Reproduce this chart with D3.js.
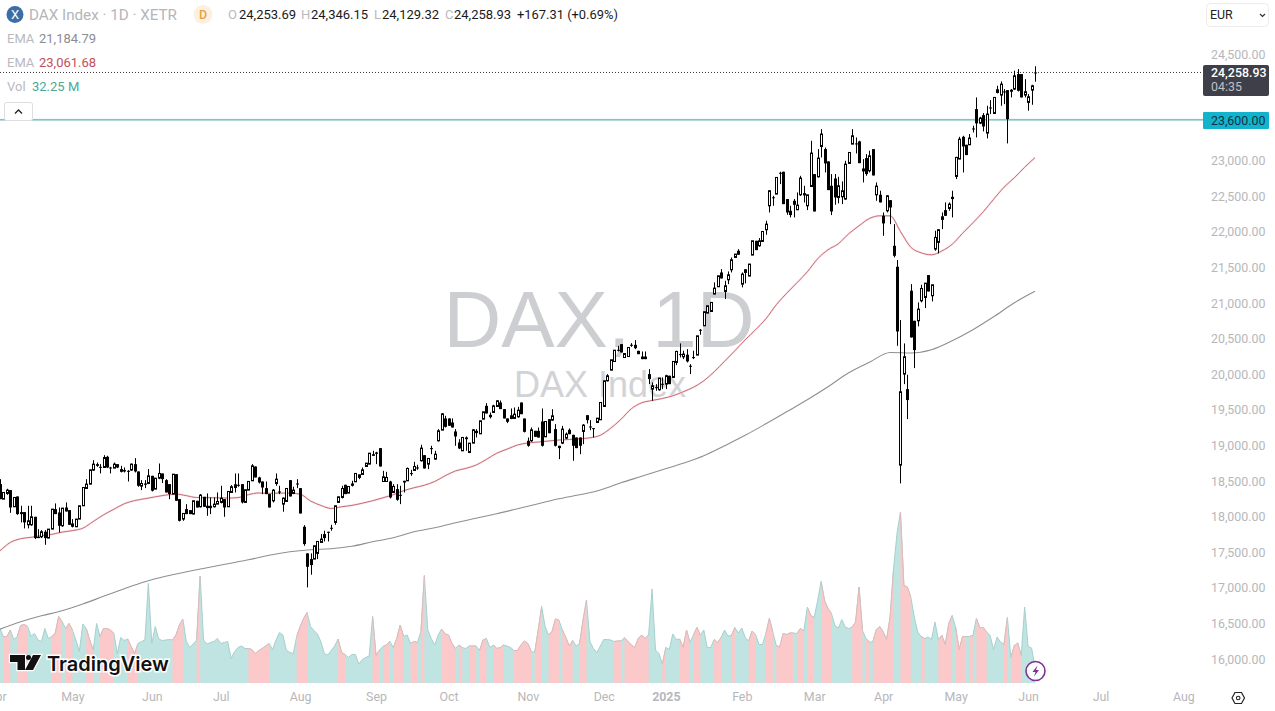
<!DOCTYPE html>
<html><head><meta charset="utf-8">
<script src="https://cdn.jsdelivr.net/npm/d3@7/dist/d3.min.js"></script>
<style>
html,body{margin:0;padding:0;background:#fff;overflow:hidden}
svg{display:block}
text{font-family:Roboto,"Noto Sans",sans-serif}
</style></head><body><svg id="c" width="1275" height="711"></svg>
<script>
const opens=[18475,18264,18344,18391,18157,18302,18082,18082,17904,17904,
18016,17735,17735,17806,17717,17843,18124,18077,17890,18147,
18110,17923,17876,17984,18171,18414,18475,18672,18756,18718,
18709,18859,18709,18700,18756,18686,18672,18658,18672,18756,
18653,18447,18484,18484,18592,18405,18559,18625,18531,18475,
18335,18615,
18264,17984,18124,18110,18054,18241,18157,18297,18171,18171,
18157,18194,18218,18264,18157,18358,18428,18461,18475,18218,
18391,18522,18723,18569,18512,18419,18335,18241,18484,18372,
18194,18232,18531,18344,18484,18419,
17876,17502,17422,17422,17502,17656,17773,17806,17857,17937,18218,
18288,18466,18349,18484,18508,18569,18611,18723,18756,18873,
18920,18981,18512,18512,18512,18358,18405,18320,18498,18522,
18625,18667,18709,18803,18882,18756,18981,18826,19084,19234,
19398,19398,19341,19215,19060,18943,19131,18920,19051,19224,
19182,19388,19575,19449,19482,19566,19622,19529,19398,19398,
19398,19421,
19622,19397,19084,19084,19224,19224,19355,19140,19388,19374,
19248,19014,19051,19121,19238,19168,19130,19130,19215,19444,
19280,19257,19341,19379,19566,19927,20076,20198,20357,20442,
20254,20268,20428,20432,20348,20268,20268,
20021,19810,19837,19801,19880,19880,19998,19974,20185,20297,
20264,20293,20138,20255,20288,20644,20700,20878,20901,21145,
21248,21449,21182,21346,21487,21660,21754,21285,21449,21398,
21693,21894,21824,21885,22049,22386,22500,22550,22845,22864,
22480,22316,22456,22330,22540,22564,22386,22657,22831,22793,
23219,23182,23009,22667,22769,22503,22512,22480,22981,23252,
23262,23290,22910,23056,22878,23182,
22540,22540,22245,22316,22465,21824,21529,18742,20021,19810,
21192,20770,20770,21051,21098,21412,21122,21777,21871,22194,
22325,22348,22512,22798,23042,23355,23243,23243,23468,23744,
23547,23660,23407,23762,23683,23978,23941,23987,24011,23988,
24025,24236,24236,23941,23838,24011,24253.69];
const highs=[18545,18358,18410,18391,18288,18302,18171,18082,18171,18171,
18016,17843,17829,17829,17843,18124,18204,18147,18138,18218,
18110,17984,17984,18171,18428,18545,18676,18812,18779,18756,
18882,18873,18718,18779,18756,18732,18709,18672,18765,18840,
18653,18531,18531,18686,18592,18560,18765,18625,18545,18475,
18615,18615,
18264,18063,18194,18110,18241,18241,18335,18297,18344,18288,
18288,18358,18452,18264,18372,18461,18625,18625,18475,18396,
18513,18756,18723,18578,18512,18512,18335,18405,18625,18452,
18288,18414,18531,18438,18545,18419,
17899,17502,17502,17609,17670,17773,17820,17806,17904,18171,18297,
18452,18466,18442,18522,18625,18606,18709,18770,18910,18943,
18929,18981,18662,18648,18522,18475,18475,18452,18522,18709,
18676,18789,18747,19028,18882,18836,19014,18943,19248,19472,
19435,19398,19398,19248,19107,19131,19145,19051,19248,19248,
19365,19491,19613,19482,19590,19655,19650,19529,19398,19538,
19552,19561,
19622,19397,19130,19271,19224,19270,19538,19355,19388,19528,
19318,19014,19294,19201,19257,19168,19130,19130,19318,19444,
19374,19257,19402,19622,19927,20020,20222,20357,20418,20442,
20310,20395,20456,20498,20348,20339,20339,
20091,19904,19880,19965,19974,20012,19998,20199,20349,20452,
20349,20372,20161,20349,20559,20653,20897,20981,21028,21309,
21402,21496,21332,21463,21660,21707,21777,21449,21496,21567,
21894,21894,21932,22025,22175,22606,22526,22784,22864,22864,
22480,22386,22480,22573,22807,22667,22540,23299,22831,23182,
23463,23205,23009,22831,22831,22793,22728,23018,23135,23463,
23346,23299,23041,23112,23159,23182,
22714,22597,22292,22536,22465,22128,21623,20780,20452,20012,
21285,20770,21028,21276,21299,21412,21276,22035,22058,22292,
22433,22433,22597,23074,23355,23369,23243,23393,23510,23908,
23636,23688,23791,23870,23908,24072,24133,24025,24011,24025,
24283,24306,24236,24165,23955,24086,24346.15];
const lows=[18264,18264,18325,18072,18157,18044,17937,17853,17853,17890,
17703,17717,17717,17623,17717,17843,18054,17796,17876,18091,
17904,17867,17876,17984,18171,18414,18475,18662,18718,18625,
18709,18700,18625,18700,18700,18639,18639,18512,18662,18639,
18438,18391,18419,18475,18372,18405,18545,18490,18358,18264,
18335,18241,
17951,17960,18054,18054,18054,18147,18147,18157,18030,18054,
18147,18194,18204,18016,18157,18358,18358,18438,18204,18218,
18391,18522,18569,18484,18335,18335,18147,18218,18452,18335,
18087,18232,18302,18335,18419,18063,
17609,17024,17202,17422,17422,17656,17670,17670,17820,17904,18218,
18274,18335,18349,18442,18508,18545,18611,18723,18756,18873,
18756,18723,18512,18512,18274,18349,18241,18194,18358,18522,
18592,18667,18676,18793,18695,18686,18896,18817,19074,19234,
19271,19295,19271,19014,18967,18943,18943,18911,19051,19131,
19182,19388,19468,19398,19482,19566,19529,19398,19332,19388,
19398,19408,
19458,19201,19000,19070,19140,19130,19004,19140,19190,19365,
19004,18826,19037,19107,19177,18803,18981,18896,19037,19327,
19233,19130,19341,19379,19566,19917,20076,20198,20339,20325,
20254,20268,20404,20371,20301,20231,20231,
19880,19646,19787,19787,19810,19810,19880,19974,20147,20255,
20232,20185,20021,20232,20288,20573,20700,20878,20901,21145,
21248,21365,21075,21285,21449,21660,21698,21239,21295,21398,
21693,21763,21810,21885,21978,22292,22386,22550,22690,22409,
22259,22222,22222,22325,22526,22433,22325,22657,22306,22784,
23065,22854,22606,22255,22400,22419,22409,22470,22981,23252,
23121,22985,22714,22807,22854,22812,
22456,22433,21964,22292,22128,21660,20419,18485,19880,19389,
20536,20105,20691,21028,20948,21182,21042,21754,21716,22058,
22245,22316,22222,22761,23042,22854,23098,23243,23416,23346,
23533,23430,23332,23674,23683,23964,23791,23814,23262,23908,
24011,23992,23908,23908,23721,23805,24129.32];
const closes=[18264,18358,18391,18147,18288,18054,18054,17937,17960,18016,
17717,17717,17806,17717,17843,18124,18054,17890,18138,18091,
17904,17876,17984,18171,18428,18475,18676,18756,18732,18709,
18849,18709,18700,18756,18709,18648,18653,18662,18756,18653,
18452,18484,18466,18592,18382,18559,18625,18545,18358,18335,
18615,18241,
17960,18063,18054,18054,18241,18147,18321,18157,18138,18138,
18194,18232,18278,18147,18372,18438,18466,18466,18218,18396,
18513,18732,18569,18498,18428,18335,18147,18391,18545,18367,
18278,18414,18302,18391,18480,18063,
17633,17314,17338,17609,17670,17703,17717,17800,17862,18171,18297,
18414,18335,18442,18452,18625,18606,18676,18770,18910,18896,
18901,18723,18578,18569,18288,18442,18255,18325,18522,18695,
18630,18723,18700,18981,18695,18836,18976,18896,19224,19463,
19280,19295,19271,19145,18976,19131,19107,19051,19238,19192,
19365,19491,19468,19416,19575,19646,19529,19398,19351,19435,
19458,19514,
19458,19210,19014,19238,19140,19130,19014,19355,19191,19435,
19014,18981,19248,19177,19177,19014,18981,19014,19304,19374,
19285,19262,19402,19622,19927,19997,20222,20357,20362,20325,
20310,20395,20433,20385,20301,20231,20231,
19951,19857,19834,19965,19885,19998,19880,20199,20339,20302,
20302,20199,20133,20260,20559,20644,20897,20981,21028,21229,
21402,21365,21262,21416,21627,21707,21698,21426,21487,21567,
21894,21763,21894,22025,22128,22597,22505,22784,22850,22409,
22292,22255,22400,22395,22775,22531,22540,23126,22306,23056,
23393,22981,22606,22306,22503,22667,22597,22971,23135,23369,
23257,22985,22868,22831,23088,22812,
22662,22433,22138,22526,22362,21683,20620,19773,20265,19656,
20536,20358,20934,21224,21299,21182,21276,21941,22049,22231,
22245,22409,22480,23065,23322,23219,23098,23337,23472,23543,
23618,23500,23674,23767,23908,24016,24095,23992,23603,24016,
24212,24002,23908,23988,23917,24072,24258.93];
const volumes=[109,93,93,106,87,93,115,117,113,94,99,86,83,109,89,93,99,133,123,109,119,106,86,63,118,109,86,66,119,93,109,109,106,99,59,91,85,88,73,59,79,83,86,199,79,113,88,85,86,87,86,96,116,128,83,71,78,86,214,86,78,81,83,89,79,81,83,49,63,71,74,69,69,67,59,65,69,74,79,67,86,101,96,66,61,59,93,113,129,141,113,105,98,83,59,56,65,
74,88,61,57,51,57,57,38,47,51,54,133,55,66,73,76,83,71,89,116,93,96,79,83,81,103,215,106,89,76,96,108,98,96,79,69,76,71,69,74,74,74,65,86,89,71,76,69,71,76,74,71,65,65,76,84,79,63,61,106,153,113,96,103,128,126,106,91,74,85,74,79,126,166,83,69,61,74,87,87,86,83,84,84,91,83,76,71,89,96,89,96,188,66,59,38,71,67,98,87,88,71,106,81,96,111,96,106,71,71,87,81,91,106,94,
95,111,100,110,91,84,104,97,77,77,99,129,102,75,72,99,97,100,100,99,109,104,152,135,131,165,203,165,149,139,115,110,127,112,109,112,122,192,105,89,82,82,107,113,102,87,132,229,299,342,195,192,172,132,102,93,89,92,87,122,87,95,77,119,135,111,67,93,93,93,95,129,111,111,102,95,67,92,82,77,131,51,75,80,55,152,73,70,32.25];
// first and last bar of each run of falling-volume (pink) bars
const pinkRunStart=[2,6,16,20,26,30,38,51,58,73,87,99,109,112,115,120,123,129,134,137,140,144,150,154,156,160,164,169,179,182,193,198,202,208,213,218,223,226,232,235,239,248,252,254,257,262,268,273,275,278,282,284,292,294];
const pinkRunEnd=[3,8,18,21,27,33,40,53,58,78,89,100,110,113,117,121,123,132,134,138,141,146,153,154,157,162,166,170,180,188,193,200,203,209,213,219,224,230,233,236,241,250,252,256,259,264,268,274,276,280,282,286,292,296];
const ema50=[17538,17656,17708,17728,17751,17769,17801,17822,17856,17949,18043,18122,18199,18244,18270,18297,18321,18335,18313,18287,18286,18282,18279,18286,18327,18351,18345,18349,18349,18334,18238,18176,18133,18157,18176,18207,18242,18283,18327,18383,18424,18460,18512,18592,18660,18696,18743,18823,18910,18967,19025,19053,19067,19081,19095,19102,19112,19126,19161,19260,19386,19534,19618,19650,19678,19716,19772,19836,19927,20053,20201,20348,20503,20644,20798,20995,21156,21304,21458,21641,21768,21852,21992,22105,22207,22245,22245,22025,21803,21725,21697,21751,21845,21999,22147,22301,22477,22646,22779,22927,23061.68];
const ema200=[16438,16541,16625,16695,16790,16899,17005,17103,17180,17243,17300,17356,17412,17475,17524,17553,17567,17602,17665,17721,17805,17862,17932,17995,18058,18129,18199,18269,18325,18393,18494,18585,18677,18768,18873,19014,19161,19323,19491,19660,19843,20039,20187,20325,20318,20363,20489,20644,20826,21023,21184.79];
const ema50Bars=d3.range(0,301,3);
const ema200Bars=d3.range(0,301,6);
const priceTicks=[16000,16500,17000,17500,18000,18500,19000,19500,20000,20500,21000,21500,22000,22500,23000,24500];
const monthTicks=[-1,21,44,64,87,109,130,153,175,193,215,236,256,277,298,319,343];
const monthLabels=["Apr","May","Jun","Jul","Aug","Sep","Oct","Nov","Dec","2025","Feb","Mar","Apr","May","Jun","Jul","Aug"];
const levelPrice=23600, lastClose=24258.93;
const legendOHLC=[["O","24,253.69",228,239],["H","24,346.15",301,311],["L","24,129.32",374,382],["C","24,258.93",445,454]];

const svg=d3.select("#c"), plotR=1203, plotB=683;
const n=opens.length;
const x=d3.scaleLinear().domain([0,n-1]).range([1035-3.45*(n-1),1035]);
const y=d3.scaleLinear().domain([16000,24500]).range([660.3,55.3]);
const vy=d3.scaleLinear().domain([0,340]).range([plotB,plotB-170]);
svg.append("defs").append("clipPath").attr("id","pl").append("rect").attr("width",plotR).attr("height",plotB);

// watermark
svg.append("text").attr("x",599).attr("y",347).attr("text-anchor","middle")
  .style("font-family","'Liberation Sans',Arial,sans-serif").style("font-size","80px").attr("fill","#cdced2").text("DAX, 1D");
svg.append("text").attr("x",600).attr("y",397).attr("text-anchor","middle")
  .style("font-family","'Liberation Sans',Arial,sans-serif").style("font-size","36px").attr("fill","#d2d3d6").text("DAX Index");

const plot=svg.append("g").attr("clip-path","url(#pl)");
// volume area: teal everywhere, pink over the falling runs
const pts=volumes.map((v,i)=>({i,v}));
const areaGen=d3.area().x(d=>x(d.i)).y0(plotB).y1(d=>vy(d.v));
const topGen=d3.line().x(d=>x(d.i)).y(d=>vy(d.v));
plot.append("path").attr("d",areaGen(pts)).attr("fill","#bfe4e1");
plot.append("path").attr("d",topGen(pts)).attr("fill","none").attr("stroke","#a9cfcd").attr("stroke-width",1);
const runs=pinkRunStart.map((s,k)=>pts.slice(Math.max(0,s-1),pinkRunEnd[k]+1));
plot.append("g").selectAll("path").data(runs).join("path").attr("d",areaGen).attr("fill","#fbc9c9");
plot.append("g").selectAll("path").data(runs).join("path").attr("d",topGen).attr("fill","none").attr("stroke","#dcbcbc").attr("stroke-width",1);

// EMAs
const lineGen=d3.line().x(d=>x(d[0])).y(d=>y(d[1])).curve(d3.curveMonotoneX);
plot.append("path").attr("d",lineGen(ema200Bars.map((b,i)=>[b,ema200[i]]))).attr("fill","none").attr("stroke","#8f8f92").attr("stroke-width",1.1);
plot.append("path").attr("d",lineGen(ema50Bars.map((b,i)=>[b,ema50[i]]))).attr("fill","none").attr("stroke","#f8e6e8").attr("stroke-width",2.2);
plot.append("path").attr("d",lineGen(ema50Bars.map((b,i)=>[b,ema50[i]]))).attr("fill","none").attr("stroke","#c86b75").attr("stroke-width",1);

// level and last-price lines
plot.append("line").attr("x1",0).attr("x2",plotR).attr("y1",y(levelPrice)+.5).attr("y2",y(levelPrice)+.5).attr("stroke","#e2f5f6").attr("stroke-width",2.5);
plot.append("line").attr("x1",0).attr("x2",plotR).attr("y1",y(levelPrice)+.5).attr("y2",y(levelPrice)+.5).attr("stroke","#5aa4ab").attr("stroke-width",1);
plot.append("line").attr("x1",0).attr("x2",plotR).attr("y1",y(lastClose)).attr("y2",y(lastClose)).attr("stroke","#333").attr("stroke-width",1).attr("stroke-dasharray","1 2");

// candles
const idx=d3.range(n);
const cx=i=>Math.round(x(i))+.5;
plot.append("g").selectAll("line").data(idx).join("line")
  .attr("x1",cx).attr("x2",cx).attr("y1",i=>y(highs[i])).attr("y2",i=>y(lows[i])).attr("stroke","#000").attr("stroke-width",1);
plot.append("g").selectAll("rect").data(idx).join("rect")
  .each(function(i){
    const up=closes[i]>=opens[i], t=y(Math.max(opens[i],closes[i])), b=y(Math.min(opens[i],closes[i]));
    const h=Math.max(b-t,1);
    if(up&&h>2) d3.select(this).attr("x",cx(i)-1).attr("width",2).attr("y",t).attr("height",h).attr("fill","#fff").attr("stroke","#000").attr("stroke-width",1);
    else d3.select(this).attr("x",cx(i)-1.5).attr("width",3).attr("y",t).attr("height",h).attr("fill","#000");
  });

// axes
const ya=svg.append("g").attr("transform",`translate(${plotR},0)`).call(d3.axisRight(y).tickValues(priceTicks).tickSize(0).tickPadding(8).tickFormat(d3.format(",.2f")));
ya.select(".domain").remove();
ya.selectAll("text").attr("fill","#b7b7bb").style("font-size","12.4px").attr("dy","0.22em");
const xa=svg.append("g").attr("transform",`translate(0,${plotB})`).call(d3.axisBottom(x).tickValues(monthTicks).tickSize(0).tickPadding(9).tickFormat((d,i)=>monthLabels[i]));
xa.select(".domain").remove();
xa.selectAll("text").attr("fill","#b7b7bb").style("font-size","12.4px").style("font-weight",(d,i)=>monthLabels[i]==="2025"?"700":"400");

// tags
svg.append("rect").attr("x",plotR).attr("y",65).attr("width",66).attr("height",31).attr("rx",2).attr("fill","#3e3f49");
svg.append("text").attr("x",1211).attr("y",77).attr("fill","#fff").style("font-size","12.4px").style("font-weight","500").text(d3.format(",.2f")(lastClose));
svg.append("text").attr("x",1211).attr("y",91).attr("fill","#c0c0c6").style("font-size","12.4px").text("04:35");
svg.append("rect").attr("x",plotR).attr("y",112).attr("width",66).attr("height",17).attr("rx",1).attr("fill","#14b3cc");
svg.append("text").attr("x",1211).attr("y",124.5).attr("fill","#0e3347").style("font-size","12.4px").text(d3.format(",.2f")(levelPrice));

// currency box
svg.append("rect").attr("x",1206.5).attr("y",3.5).attr("width",62).attr("height",23).attr("rx",4).attr("fill","#fff").attr("stroke","#ececee");
svg.append("text").attr("x",1210).attr("y",19).attr("fill","#222").style("font-size","12.4px").text("EUR");
svg.append("path").attr("d","M1260 14l2.5 2.5 2.5-2.5").attr("fill","none").attr("stroke","#333").attr("stroke-width",1.2);

// legend
svg.append("circle").attr("cx",15).attr("cy",14.5).attr("r",8.5).attr("fill","#3b6ea8");
svg.append("text").attr("x",15).attr("y",19).attr("text-anchor","middle").attr("fill","#fff").style("font-size","13px").text("X");
svg.append("text").attr("x",29).attr("y",19.5).attr("fill","#b5b5ba").style("font-size","15.2px").text("DAX Index · 1D · XETR");
svg.append("circle").attr("cx",203).attr("cy",14.5).attr("r",9.5).attr("fill","#fdf0e0");
svg.append("text").attr("x",203).attr("y",19).attr("text-anchor","middle").attr("fill","#e7a23e").style("font-size","12.5px").style("font-weight","500").text("D");
legendOHLC.forEach(r=>{
  svg.append("text").attr("x",r[2]).attr("y",19).attr("fill","#b9b9bd").style("font-size","13px").text(r[0]);
  svg.append("text").attr("x",r[3]).attr("y",19).attr("fill","#1a1a1a").style("font-size","13px").text(r[1]);
});
svg.append("text").attr("x",517).attr("y",19).attr("fill","#1a1a1a").style("font-size","12.9px").text("+167.31 (+0.69%)");
[[38,"EMA","21,184.79","#8c8c90",39],[62,"EMA","23,061.68","#c1505c",39],[86,"Vol","32.25 M","#4da799",32]].forEach(r=>{
  svg.append("text").attr("x",7).attr("y",r[0]+5).attr("fill","#b9b9bd").style("font-size","13px").text(r[1]);
  svg.append("text").attr("x",r[4]).attr("y",r[0]+5).attr("fill",r[3]).style("font-size","13px").text(r[2]);
});
svg.append("rect").attr("x",4.5).attr("y",102.5).attr("width",28).attr("height",18).attr("rx",2).attr("fill","#fff").attr("stroke","#dedee0");
svg.append("path").attr("d","M15 113.5l3.5-3.5 3.5 3.5").attr("fill","none").attr("stroke","#222").attr("stroke-width",1.3);

// logo
const logo=svg.append("g");
logo.append("path").attr("d","M10 655H25V670H17.5V662H10Z M33 655H41L33 670H25Z").attr("fill","#111").attr("stroke","#fff").attr("stroke-width",2.5).attr("paint-order","stroke");
logo.append("circle").attr("cx",28.5).attr("cy",657.5).attr("r",2.5).attr("fill","#111");
logo.append("text").attr("x",47).attr("y",670.5).attr("fill","#111").attr("stroke","#fff").attr("stroke-width",3).attr("paint-order","stroke")
  .style("font-family","Inter,Roboto,sans-serif").style("font-size","20px").style("font-weight","600").text("TradingView");

// lightning badge
svg.append("circle").attr("cx",1035.5).attr("cy",671).attr("r",9.5).attr("fill","#fff").attr("stroke","#7b3591").attr("stroke-width",1.6);
svg.append("path").attr("d","M1037.5 665.5l-5 6.5h3l-1.5 4.5 5-6.5h-3z").attr("fill","#7b3591");

// settings icon
svg.append("path").attr("d","M1232 698l3-5.5h6.5l3 5.5-3 5.5H1235z").attr("fill","none").attr("stroke","#222").attr("stroke-width",1.2);
svg.append("circle").attr("cx",1238.2).attr("cy",698).attr("r",1.8).attr("fill","none").attr("stroke","#222").attr("stroke-width",1.1);
</script></body></html>
